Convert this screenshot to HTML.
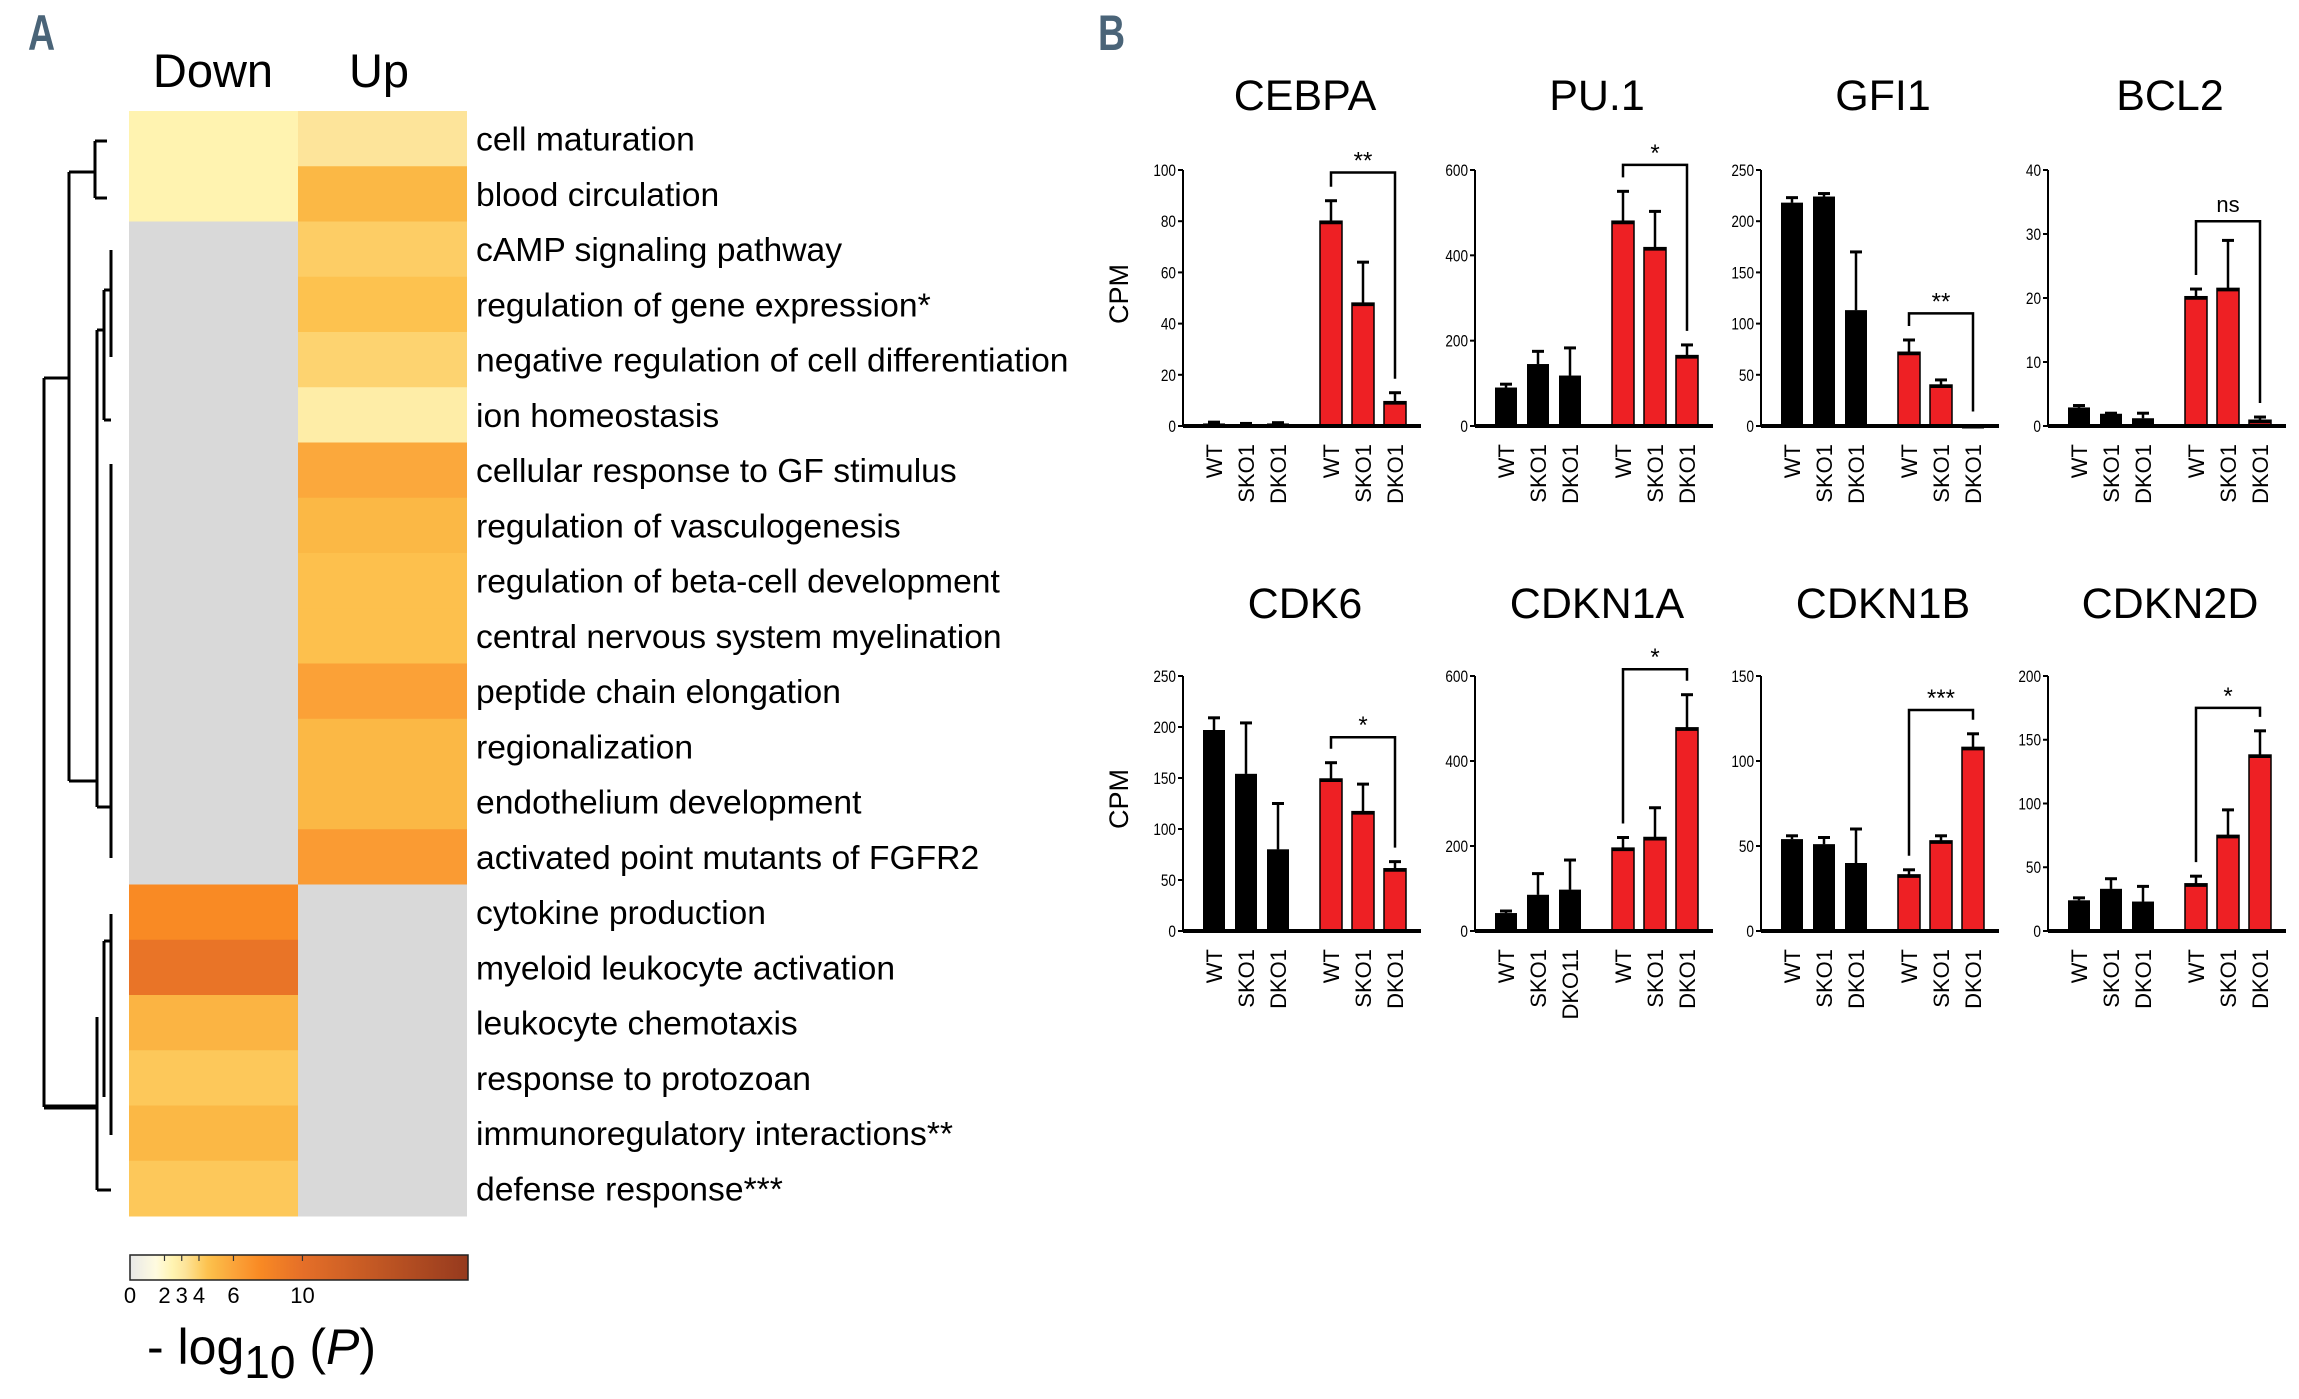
<!DOCTYPE html>
<html><head><meta charset="utf-8"><style>
html,body{margin:0;padding:0;background:#fff;}
svg{display:block;font-family:"Liberation Sans",Arial,sans-serif;}
</style></head><body>
<svg id="fig" width="2299" height="1399" viewBox="0 0 2299 1399" xmlns="http://www.w3.org/2000/svg">
<defs>
<linearGradient id="cbgrad" x1="0" x2="1" y1="0" y2="0"></linearGradient>
</defs>
<text x="28" y="50" font-size="50" font-weight="bold" fill="#4a6478" transform="translate(28,0) scale(0.75,1) translate(-28,0)">A</text>
<text x="1098" y="50" font-size="50" font-weight="bold" fill="#4a6478" transform="translate(1098,0) scale(0.75,1) translate(-1098,0)">B</text>
<text x="213" y="87" font-size="47" text-anchor="middle">Down</text>
<text x="379" y="87" font-size="47" text-anchor="middle">Up</text>
<g id="dendro" stroke="#000" stroke-width="3" fill="none">
<path d="M44 378 V1107 M44 378 H69 M44 1107 H97" />
<path d="M69 172 V781 M69 172 H95 M95 141 V198 M95 141 H107 M95 198 H107 M69 781 H97" />
<path d="M97 330 V807 M97 330 H104 M97 807 H111 M104 290 V420 M104 290 H111 M104 420 H111 M111 250 V357 M111 464 V858" />
<path d="M97 1017 V1190 M97 1190 H111 M104 941 V1097 M104 941 H111 M111 914 V1135" />
<path d="M44 1107 H97" stroke-width="5"/>
</g>
<g id="heat"></g>
<g id="labels" transform="translate(476,0) scale(1.02,1)"></g>
<g id="colorbar"></g>
<text x="147" y="1364" font-size="50">- log<tspan font-size="46" dy="14">10</tspan><tspan dy="-14"> (</tspan><tspan font-style="italic">P</tspan>)</text>
<g id="charts"></g>
</svg>
<script>
// ---------- heatmap data ----------
const termLabels = ["cell maturation","blood circulation","cAMP signaling pathway","regulation of gene expression*","negative regulation of cell differentiation","ion homeostasis","cellular response to GF stimulus","regulation of vasculogenesis","regulation of beta-cell development","central nervous system myelination","peptide chain elongation","regionalization","endothelium development","activated point mutants of FGFR2","cytokine production","myeloid leukocyte activation","leukocyte chemotaxis","response to protozoan","immunoregulatory interactions**","defense response***"];
const downVals = [2.5,2.5,null,null,null,null,null,null,null,null,null,null,null,null,7.5,9.5,5.2,4.3,5.0,4.3];
const upVals = [3.2,5.0,4.1,4.5,3.9,2.8,5.8,5.0,4.6,4.6,6.2,5.0,5.0,6.5,null,null,null,null,null,null];
const cbTicks = [0,2,3,4,6,10];
const cbMax = 19.6;
const stopVals = [0,1.5,2.5,3.2,4,4.5,5,6,7.5,10,19.6];
const stopCols = ["#e8e8e8","#fffbe0","#fff3b0","#fde49a","#fdd06a","#fdc24f","#fbb845","#fba43a","#f98a24","#e56f28","#963a1e"];

// ---------- bar chart data ----------
const genes = ["CEBPA","PU.1","GFI1","BCL2","CDK6","CDKN1A","CDKN1B","CDKN2D"];
const axisMax = [100,600,250,40,250,600,150,200];
const tickStep = [20,200,50,10,50,200,50,50];
const blackVals = [[1,0.7,1],[90,145,118],[218,224,113],[2.9,1.9,1.2],[197,154,80],[42,85,97],[54,51,40],[24,33,23]];
const blackErr = [[0.5,0.3,0.3],[8,30,65],[5,3,57],[0.3,0.1,0.8],[12,50,45],[5,50,70],[2,4,20],[2,8,12]];
const redVals = [[80,48,9.5],[480,418,165],[72,40,0.5],[20.2,21.5,0.9],[149,117,61],[195,220,478],[33,53,108],[37,75,138]];
const redErr = [[8,16,3.5],[70,85,25],[12,5,0],[1.2,7.5,0.5],[16,27,7],[25,70,78],[3,3,8],[6,20,19]];
const bracketLevel = [99,612,110,32,190,616,130,175];
const sigLabels = ["**","*","**","ns","*","*","***","*"];
const xLabels = [["WT","SKO1","DKO1","WT","SKO1","DKO1"],["WT","SKO1","DKO1","WT","SKO1","DKO1"],["WT","SKO1","DKO1","WT","SKO1","DKO1"],["WT","SKO1","DKO1","WT","SKO1","DKO1"],["WT","SKO1","DKO1","WT","SKO1","DKO1"],["WT","SKO1","DKO11","WT","SKO1","DKO1"],["WT","SKO1","DKO1","WT","SKO1","DKO1"],["WT","SKO1","DKO1","WT","SKO1","DKO1"]];

const NS = "http://www.w3.org/2000/svg";
function mk(tag, attrs, parent){const e=document.createElementNS(NS,tag);for(const k in attrs)e.setAttribute(k,attrs[k]);parent.appendChild(e);return e;}
function hex(c){return [parseInt(c.substr(1,2),16),parseInt(c.substr(3,2),16),parseInt(c.substr(5,2),16)];}
function colorFor(v){
  if(v===null) return "#d9d9d9";
  for(let i=0;i<stopVals.length-1;i++){
    if(v<=stopVals[i+1]){const t=(v-stopVals[i])/(stopVals[i+1]-stopVals[i]);const a=hex(stopCols[i]),b=hex(stopCols[i+1]);
      return "rgb("+a.map((x,j)=>Math.round(x+(b[j]-x)*t)).join(",")+")";}
  }
  return stopCols[stopCols.length-1];
}
const heat=document.getElementById("heat"), labs=document.getElementById("labels");
const hTop=111, rowH=55.25, colX=[129,298], colW=169;
termLabels.forEach((lab,i)=>{
  const y=hTop+i*rowH;
  const d=mk("rect",{x:colX[0],y:y,width:colW,height:rowH+0.5,fill:colorFor(downVals[i])},heat);
  
  
  const u=mk("rect",{x:colX[1],y:y,width:colW,height:rowH+0.5,fill:colorFor(upVals[i])},heat);
  
  
  const t=mk("text",{x:0,y:y+rowH/2+12,"font-size":33},labs);
  t.textContent=lab;
  
  
});
const grad=document.getElementById("cbgrad");
stopVals.forEach((v,i)=>{mk("stop",{offset:(v/cbMax),"stop-color":stopCols[i]},grad);});
const cb=document.getElementById("colorbar");
const cbX0=130,cbX1=468,cbY=1255,cbH=25;
const cbx=v=>cbX0+v/cbMax*(cbX1-cbX0);
mk("rect",{x:cbX0,y:cbY,width:cbX1-cbX0,height:cbH,fill:"url(#cbgrad)",stroke:"#222","stroke-width":1.5},cb);
cbTicks.forEach(v=>{
  mk("line",{x1:cbx(v),x2:cbx(v),y1:cbY,y2:cbY+6,stroke:"#333","stroke-width":1.2},cb);
  const t=mk("text",{x:cbx(v),y:1303,"font-size":22,"text-anchor":"middle"},cb);
  t.textContent=v;
  
  
});
const charts=document.getElementById("charts");
const axX=[1183,1475,1761,2048], rowBase=[426,931], rowTop=[170,676];
const barOff=[31,63,95,148,180,212], barW=22;
genes.forEach((g,ci)=>{
  const r=Math.floor(ci/4), c=ci%4, x0=axX[c], yb=rowBase[r], yt=rowTop[r];
  const grp=mk("g",{},charts);
  
  
  const ys=v=>yb-(v/axisMax[ci])*(yb-yt);
  const title=mk("text",{x:x0+122,y:(r?603:95)+15,"font-size":43,"text-anchor":"middle"},grp);
  title.textContent=g;
  
  
  mk("line",{x1:x0,x2:x0,y1:yt,y2:yb,stroke:"#000","stroke-width":2},grp);
  for(let v=0;v<=axisMax[ci]+1e-9;v+=tickStep[ci]){
    mk("line",{x1:x0-5,x2:x0,y1:ys(v),y2:ys(v),stroke:"#000","stroke-width":2},grp);
    const t=mk("text",{x:x0-7,y:ys(v)+6,"font-size":17,"text-anchor":"end",transform:"translate("+(x0-7)+",0) scale(0.8,1) translate("+(-(x0-7))+",0)"},grp);
    t.textContent=v;
    
    
  }
  const vals=blackVals[ci].concat(redVals[ci]), errs=blackErr[ci].concat(redErr[ci]);
  vals.forEach((v,bi)=>{
    const cx=x0+barOff[bi], red=bi>=3;
    const top=ys(v);
    const b=mk("rect",{x:cx-barW/2,y:top,width:barW,height:yb-top,fill:red?"#ee2024":"#000",stroke:"#000","stroke-width":red?1.5:0},grp);
    
    
    mk("line",{x1:cx-barW/2,x2:cx+barW/2,y1:top+1.5,y2:top+1.5,stroke:"#000","stroke-width":3},grp);
    if(errs[bi]>0){
      const et=ys(v+errs[bi]);
      mk("line",{x1:cx,x2:cx,y1:top,y2:et,stroke:"#000","stroke-width":2.5},grp);
      mk("line",{x1:cx-6,x2:cx+6,y1:et,y2:et,stroke:"#000","stroke-width":3},grp);
    }
    const lx=cx, ly=yb+18;
    const t=mk("text",{x:lx+8,y:ly,"font-size":22,"text-anchor":"end",transform:"rotate(-90 "+(lx+8)+" "+ly+")"},grp);
    t.textContent=xLabels[ci][bi];
    
    
  });
  mk("line",{x1:x0,x2:x0+238,y1:yb,y2:yb,stroke:"#000","stroke-width":4},grp);
  const by=ys(bracketLevel[ci]), lxB=x0+barOff[3], rxB=x0+barOff[5];
  const lEnd=ys(vals[3]+errs[3])-14, rEnd=ys(vals[5]+errs[5])-14;
  const br=mk("path",{d:"M"+lxB+" "+lEnd+" V"+by+" H"+rxB+" V"+rEnd,stroke:"#000","stroke-width":2.5,fill:"none"},grp);
  
  
  const s=mk("text",{x:(lxB+rxB)/2,y:by-(sigLabels[ci]==="ns"?9:4),"font-size":sigLabels[ci]==="ns"?22:24,"text-anchor":"middle"},grp);
  s.textContent=sigLabels[ci];
  
  
});
[294,799].forEach(y=>{
  const t=mk("text",{x:1128,y:y,"font-size":27,"text-anchor":"middle",transform:"rotate(-90 1128 "+y+")"},charts);
  t.textContent="CPM";
  
  
});
</script>
</body></html>
